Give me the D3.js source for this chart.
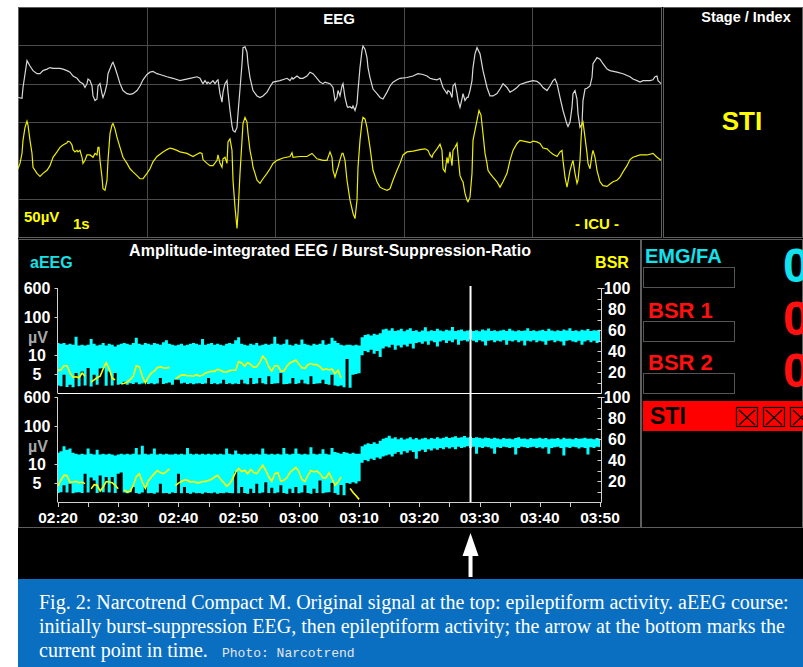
<!DOCTYPE html>
<html><head><meta charset="utf-8">
<script src="https://cdn.jsdelivr.net/npm/d3@7"></script>
<style>html,body{margin:0;padding:0;background:#fff;}svg{display:block;}</style>
</head><body>
<svg id="c" width="803" height="667"></svg>
<script>
// ---------------- DATA ----------------
// Raw EEG (samples at ~128.6 Hz over 5 s, value in µV relative to channel baseline)
const eegWhite = [[0,-18],[4,-19],[5,-5],[9,30],[12,23],[15,17],[19,13],[22,13],[25,17],[29,19],[32,21],[35,20],[42,20],[45,19],[49,17],[52,15],[55,10],[59,7],[62,2],[65,0],[67,-5],[69,0],[70,6],[72,4],[74,-3],[75,-16],[77,-22],[79,-20],[80,-3],[82,0],[84,-13],[85,-18],[87,-11],[89,0],[90,13],[94,26],[95,28],[97,21],[99,13],[102,0],[105,-9],[109,-13],[112,-14],[115,-13],[119,-9],[122,-3],[125,5],[129,12],[132,15],[135,16],[139,13],[142,12],[149,9],[155,7],[162,4],[165,5],[172,7],[179,9],[182,7],[184,2],[185,0],[187,4],[189,0],[190,2],[192,0],[195,4],[197,0],[199,4],[200,5],[202,-13],[204,-24],[205,-11],[207,0],[209,4],[210,-11],[212,-35],[214,-55],[215,-61],[217,-63],[219,-57],[220,-39],[222,-7],[224,26],[225,47],[227,48],[229,41],[230,26],[232,8],[235,-9],[239,-16],[242,-18],[245,-16],[249,-11],[252,-4],[255,2],[262,4],[269,7],[272,4],[274,8],[275,6],[279,10],[282,7],[285,7],[289,10],[292,15],[295,13],[299,7],[302,2],[305,0],[307,2],[312,0],[315,-5],[317,-22],[319,-18],[320,-9],[322,-16],[324,-3],[325,0],[327,-18],[329,-29],[330,-31],[332,-30],[334,-32],[335,-29],[337,-35],[339,-26],[340,-9],[342,21],[344,43],[345,49],[347,45],[349,34],[350,21],[352,8],[355,-7],[359,-13],[362,-18],[365,-20],[369,-11],[372,-3],[375,2],[379,5],[382,7],[389,8],[395,10],[400,13],[405,12],[409,10],[412,7],[415,6],[419,5],[422,7],[425,-5],[429,-13],[430,-9],[432,-11],[434,-18],[435,-3],[437,0],[439,-13],[440,-22],[442,-31],[444,-20],[445,-13],[447,-22],[449,-18],[450,-18],[452,-9],[454,4],[455,21],[457,39],[459,47],[462,39],[465,17],[469,-5],[472,-16],[475,-16],[479,-13],[482,-7],[485,0],[489,-5],[492,-11],[495,-9],[499,-5],[502,-1],[509,2],[515,4],[519,3],[522,0],[525,-5],[529,-9],[532,-3],[535,4],[537,6],[539,0],[542,-18],[545,-35],[549,-53],[550,-56],[552,-50],[554,-31],[555,-13],[557,-9],[559,-20],[560,-39],[562,-57],[564,-53],[565,-22],[567,-7],[569,-6],[572,-3],[574,8],[575,26],[579,34],[582,32],[585,26],[589,19],[592,17],[599,15],[605,13],[612,9],[615,6],[619,4],[622,2],[625,4],[632,4],[635,5],[637,9],[639,10],[640,4],[643,0]];
const eegYellow = [[0,-11],[2,-4],[4,9],[5,26],[7,43],[9,51],[10,46],[12,26],[14,9],[15,-9],[19,-17],[22,-21],[25,-17],[29,-13],[32,-7],[35,4],[39,11],[42,17],[45,20],[49,23],[50,25],[52,24],[54,20],[55,14],[57,11],[59,13],[60,11],[62,13],[64,4],[65,-4],[67,0],[69,7],[72,7],[75,4],[77,9],[79,7],[80,17],[81,17],[82,0],[84,-22],[85,-37],[87,-39],[89,-26],[90,0],[92,35],[94,46],[95,48],[97,41],[99,30],[102,17],[105,4],[109,-4],[112,-11],[115,-15],[119,-20],[122,-24],[125,-24],[129,-17],[132,-11],[135,-2],[139,5],[142,8],[145,11],[149,14],[152,16],[155,15],[159,13],[162,11],[169,9],[175,5],[179,8],[182,10],[184,9],[185,1],[189,-4],[192,-7],[195,-7],[199,0],[200,7],[202,-4],[204,-9],[205,2],[207,4],[209,-4],[210,24],[212,28],[214,13],[215,-26],[217,-61],[219,-89],[220,-69],[222,-17],[224,26],[225,48],[227,56],[229,50],[230,35],[232,13],[234,0],[235,-9],[237,-17],[239,-26],[242,-30],[245,-24],[249,-17],[252,-11],[255,-4],[259,0],[265,3],[272,5],[274,10],[275,4],[282,5],[289,5],[294,9],[299,2],[305,0],[309,0],[312,11],[314,4],[315,-13],[317,-22],[319,-13],[320,-9],[322,1],[324,9],[325,9],[327,0],[329,-26],[332,-52],[335,-69],[337,-76],[339,-52],[340,-9],[342,26],[344,50],[345,56],[347,54],[349,43],[352,17],[355,-13],[359,-28],[362,-35],[365,-37],[369,-39],[372,-37],[375,-26],[379,-13],[382,-4],[385,7],[389,11],[395,12],[402,14],[407,15],[410,13],[412,7],[414,4],[415,8],[419,15],[422,21],[424,13],[425,-11],[427,-15],[429,4],[430,-4],[432,11],[434,-7],[435,13],[437,17],[439,22],[440,7],[442,-20],[444,-26],[445,-28],[447,-43],[449,-52],[450,-54],[452,-48],[454,-17],[455,26],[459,52],[461,65],[463,59],[465,35],[467,9],[469,-4],[470,-13],[472,-17],[475,-22],[479,-28],[482,-35],[485,-28],[489,-17],[492,0],[495,13],[499,22],[502,26],[509,24],[512,23],[515,25],[519,24],[522,22],[525,16],[529,15],[532,11],[535,8],[539,5],[542,11],[544,13],[545,0],[547,-22],[549,-35],[550,-28],[552,-13],[554,-4],[555,0],[557,-17],[559,-30],[560,-26],[562,0],[563,26],[564,48],[565,50],[567,30],[569,9],[570,-4],[572,-11],[574,7],[575,13],[577,4],[579,-13],[582,-28],[585,-33],[589,-34],[592,-31],[595,-28],[599,-26],[602,-22],[605,-15],[609,-7],[612,1],[615,4],[622,7],[629,7],[635,9],[639,4],[643,0]];

// aEEG trend, one value every 0.5 min from 02:20 to 03:50 (µV)
const aeegHi1 = [21,20,21,19,20,19,31,18,19,18, 19,27,20,18,19,21,18,20,19,17, 19,20,21,20,19,21,29,20,19,21, 20,19,21,20,19,22,25,20,19,18, 19,20,18,19,20,21,20,19,27,19, 20,21,19,20,19,18,20,21,20,25, 30,20,19,18,20,19,21,18,19,20, 19,20,31,20,19,20,26,19,18,20, 19,26,20,19,18,20,19,20,25,19, 20,29,24,21,19,18,19,19,18,19, 18,30,34,36,33,37,35,38,48,50, 45,52,44,46,50,43,47,52,44,46, 42,45,55,43,46,44,50,45,43,47, 45,56,44,46,48,43,45,47,44,46, 43,48,45,51,44,46,43,45,47,44, 50,45,43,46,44,45,52,44,46,43, 45,47,44,50,45,43,46,44,48,45, 52,44,46,43,47,45,49,44,46,45,47];
const aeegLo1 = [2.0,1.8,4.8,1.6,2.2,1.5,5.3,1.8,5.7,2.0, 6.6,1.7,4.8,2.2,6.5,6.6,1.9,5.7,2.0,5.3, 2.2,2.4,3.0,2.2,2.6,2.4,2.8,2.3,2.5,2.9, 2.4,2.6,2.3,2.5,4.0,2.4,2.6,2.8,2.2,3.5, 3.5,2.5,2.7,2.4,2.6,2.3,2.5,2.6,2.4,2.5, 4.0,2.4,2.6,2.3,2.5,3.5,2.4,2.6,2.3,2.5, 2.4,3.5,2.5,2.3,4.0,2.4,2.5,4.0,2.6,2.3, 4.4,2.4,2.5,2.6,5.3,2.3,2.4,2.5,4.0,2.4, 2.6,3.5,2.5,2.3,4.4,2.4,2.5,2.6,3.5,2.4, 2.2,4.8,2.0,1.8,2.0,1.5,9.0,1.4,4.8,5.0, 5.2,10,13,12,14,11,13,9.5,15,17, 16,19,14,18,16,19,17,20,15,21, 22,20,23,19,24,22,17,23,25,21, 24,22,26,19,24,25,23,26,24,22, 25,23,18,24,25,22,24,23,25,19, 24,23,25,22,24,18,24,23,25,22, 24,23,19,24,25,22,24,23,18,24, 25,23,22,24,19,23,25,22,24,21,23];
const aeegHi2 = [20,22,30,24,26,20,19,18,19,18, 26,19,18,24,18,19,18,19,18,17, 18,19,18,19,18,19,27,18,31,19, 18,19,26,18,19,18,19,18,18,19, 18,19,18,27,19,18,19,18,19,18, 19,18,19,18,19,18,26,19,18,23, 19,18,19,18,19,18,19,18,26,19, 18,19,18,19,18,27,19,18,19,26, 19,18,19,18,28,19,18,19,25,19, 18,27,21,20,19,21,20,19,20,19, 19,30,33,36,34,38,35,42,47,50, 57,48,52,46,50,45,48,52,46,49, 45,48,50,46,49,47,52,48,50,53, 49,52,55,50,52,56,51,53,49,52, 50,48,51,49,47,50,48,46,49,47, 48,46,49,52,47,48,46,49,47,48, 50,47,49,46,48,47,49,46,50,47, 48,46,49,47,48,50,47,48,46,49,47];
const aeegLo2 = [2.4,2.6,4.4,2.5,4.8,2.3,2.5,2.6,2.4,7.5, 2.5,6.5,5.7,2.4,7.0,2.6,6.6,2.5,6.6,2.4, 7.5,7.8,2.5,2.3,2.6,4.0,2.4,2.2,2.5,4.0, 2.3,2.4,2.2,2.5,4.8,2.3,2.4,2.2,2.5,2.4, 7.5,2.3,4.0,2.4,2.2,2.5,2.3,2.4,2.2,2.5, 2.4,2.3,2.5,2.2,2.4,2.3,2.5,2.4,2.3,8.0, 2.3,4.0,2.4,2.2,3.5,2.4,4.8,2.3,2.5,5.2, 2.4,3.8,2.3,2.5,4.4,2.4,2.2,3.5,2.4,4.0, 2.3,2.5,4.4,2.4,2.2,3.5,2.4,5.7,2.3,2.5, 2.6,5.0,2.4,1.9,4.5,1.8,5.0,4.8,5.2,4.9, 5.5,11,13,12,14,13,15,14,16,17, 18,16,19,21,18,22,20,23,21,14, 22,24,21,25,23,26,24,27,25,28, 26,28,25,29,27,28,30,27,29,19, 28,27,29,28,26,19,28,27,29,28, 27,28,18,27,29,28,27,28,29,27, 28,26,28,19,27,28,29,27,17,28, 27,29,28,26,28,27,18,28,27,29,28];
// Burst-suppression ratio (%), same time grid, null = no value
const bsr1 = [21.6,22,26,26,19,15,15.5,14.5,19,16, null,10.5,12.5,14.5,16,23,29,23,14,12.7, null,8.6,9.3,10.5,13,16,26,25,16,9.5, 15,19,21,24,25,23.8,23.8,24.4,null,13.5, 15.5,17,17,16.5,16.5,16,17.5,16,17,19, 20,20.6,20.6,22.5,21.6,20,20,21.5,21.6,21.6, 30,28.6,25.4,29,27,24.5,25,29,35,32, 25,21,26,26,21,21,25.4,28.6,30,31.5, 27.5,24,23.5,27,28,27,27,25,22,23, 22,22.9,18.4,21.6,14.3];
const bsr2 = [15.2,21,25.5,25,18.5,19,19.7,18.4,19,17.5, null,12.5,16.5,16,10.5,14.3,19.5,19,18.4,15.9, 12.7,null,11.5,9.5,10.2,16,24,27,19,13, 20,23.8,27,30,28,27,29,31.5,null,15.5, 18,19.5,21,20.6,19,19.5,18.5,18.5,19.5,19.5, 20.6,21.6,23.8,25.5,21.6,18.5,15,17.5,22,28.5, 32,29,30.2,27,31,28,27,31,35,30.2, 24,19.7,27,28,20,20.6,23,28,30.5,33, 29,21.5,19.7,25.4,30,28.6,29.5,27,23,23, 28,22,16,19,23.8,null,null,13,9,6, 2.5];

const timeLabels = ["02:20","02:30","02:40","02:50","03:00","03:10","03:20","03:30","03:40","03:50"];
const aeegTicks = [600,100,10,5];
const bsrTicks = [100,80,60,40,20];
const cursorMinute = 68.5;          // minutes after 02:20
const sideLabels = ["EMG/FA","BSR 1","BSR 2"];
const sideValues = ["0","0","0"];
const captionLines = ["Fig. 2: Narcotrend Compact M. Original signal at the top: epileptiform activity. aEEG course:",
  "initially burst-suppression EEG, then epileptiform activity; the arrow at the bottom marks the",
  "current point in time."];
const captionCredit = "Photo: Narcotrend";

// ---------------- DRAW ----------------
const SANS = "'Liberation Sans', Arial, Helvetica, sans-serif";
const SERIF = "'Liberation Serif', 'Times New Roman', serif";
const MONO = "'Liberation Mono', 'DejaVu Sans Mono', monospace";
const svg = d3.select("#c");
const GRID = "#4b4b4b", BORDER = "#5e5e5e";

svg.append("rect").attr("width",803).attr("height",667).attr("fill","#fff");
svg.append("rect").attr("x",18).attr("y",7).attr("width",785).attr("height",572).attr("fill","#000");
svg.append("rect").attr("x",18).attr("y",579).attr("width",785).attr("height",88).attr("fill","#0a6fc0");

function box(x,y,w,h,stroke){ svg.append("rect").attr("x",x+0.5).attr("y",y+0.5).attr("width",w).attr("height",h).attr("fill","none").attr("stroke",stroke).attr("stroke-width",1); }
box(18,7,643,230,BORDER);
box(663,7,139,230,BORDER);
box(18,239,622,288,BORDER);
box(641,239,161,288,BORDER);

function txt(x,y,s,o){ const t=svg.append("text").attr("x",x).attr("y",y).text(s)
  .attr("font-family",o.ff||SANS).attr("font-size",o.fs).attr("font-weight",o.fw||"bold")
  .attr("fill",o.fill||"#fff").attr("text-anchor",o.anchor||"start"); if(o.ls) t.attr("letter-spacing",o.ls); return t; }

// ---- raw EEG panel ----
const xE = d3.scaleLinear().domain([0,643]).range([18,661]);
const yE = d3.scaleLinear().domain([0,300]).range([237,7]);
const gE = svg.append("g");
d3.range(50,300,50).forEach(v=>gE.append("line").attr("x1",19).attr("x2",661).attr("y1",Math.round(yE(v))+0.5).attr("y2",Math.round(yE(v))+0.5).attr("stroke",GRID));
d3.range(1,5).forEach(s=>{const x=Math.round(xE(s*128.6))+0.5; gE.append("line").attr("x1",x).attr("x2",x).attr("y1",8).attr("y2",237).attr("stroke",GRID);});
const lineWhite = d3.line().x(d=>xE(d[0])).y(d=>yE(200+d[1]));
const lineYellow = d3.line().x(d=>xE(d[0])).y(d=>yE(100+d[1]));
gE.append("path").attr("d",lineWhite(eegWhite)).attr("fill","none").attr("stroke","#d8d8d8").attr("stroke-width",1.2);
gE.append("path").attr("d",lineYellow(eegYellow)).attr("fill","none").attr("stroke","#eeee00").attr("stroke-width",1.2);
txt(339,24,"EEG",{fs:15,anchor:"middle"});
txt(24,222,"50µV",{fs:15,fill:"#ffff00"});
txt(73,229,"1s",{fs:15,fill:"#ffff00"});
txt(597,229,"- ICU -",{fs:15,fill:"#ffff00",anchor:"middle"});
txt(746,22,"Stage / Index",{fs:14.5,anchor:"middle"});
txt(742,130,"STI",{fs:26,fill:"#ffff00",anchor:"middle"});

// ---- aEEG trend ----
const tf = v => v <= 10 ? v/10 : 1 + Math.log10(v/10);
const xT = d3.scaleLinear().domain([0,90]).range([58,600]);
const plots = [
  {hi:aeegHi1, lo:aeegLo1, bsr:bsr1, top:288, bot:393},
  {hi:aeegHi2, lo:aeegLo2, bsr:bsr2, top:397, bot:502}
];
const AX = "#d0d0d0";
plots.forEach((p,k)=>{
  const yA = d3.scaleLinear().domain([0,tf(600)]).range([p.bot,p.top]);
  const yB = d3.scaleLinear().domain([0,100]).range([p.bot,p.top]);
  const g = svg.append("g");
  const area = d3.area().x((d,i)=>xT(i*0.5)).y0((d,i)=>yA(tf(p.lo[i]))).y1(d=>yA(tf(d))).curve(d3.curveStep);
  g.append("path").attr("d",area(p.hi)).attr("fill","#00ffff");
  const bl = d3.line().defined(d=>d!=null).x((d,i)=>xT(i*0.5)).y(d=>yB(d));
  g.append("path").attr("d",bl(p.bsr)).attr("fill","none").attr("stroke","#ffff00").attr("stroke-width",1.6);
  // left axis
  const xl = xT(0)-0.5;
  g.append("line").attr("x1",xl).attr("x2",xl).attr("y1",yA(tf(600))).attr("y2",p.bot).attr("stroke",AX);
  aeegTicks.forEach(v=>{
    const y=Math.round(yA(tf(v)))+0.5;
    g.append("line").attr("x1",xl-3).attr("x2",xl).attr("y1",y).attr("y2",y).attr("stroke",AX);
    txt(37,yA(tf(v))+6,String(v),{fs:16,anchor:"middle"});
  });
  txt(38,yA(tf(30))+6,"µV",{fs:16,anchor:"middle",fill:"#a8a8a8"});
  // right axis
  const xr = xT(90)+1.5;
  g.append("line").attr("x1",xr).attr("x2",xr).attr("y1",p.top).attr("y2",p.bot).attr("stroke",AX);
  d3.range(0,101,10).forEach(v=>{const y=Math.round(yB(v))+0.5; g.append("line").attr("x1",xr-4).attr("x2",xr).attr("y1",y).attr("y2",y).attr("stroke",AX);});
  g.append("line").attr("x1",xr).attr("x2",xr+3).attr("y1",p.top+0.5).attr("y2",p.top+0.5).attr("stroke",AX);
  bsrTicks.forEach(v=>txt(617,yB(v)+6,String(v),{fs:16,anchor:"middle"}));
  // bottom line
  g.append("line").attr("x1",xl).attr("x2",xr).attr("y1",p.bot+0.5).attr("y2",p.bot+0.5).attr("stroke",k==0?"#ffffff":AX);
  if(k==1){
    d3.range(0,91,5).forEach(m=>{const x=Math.round(xT(m))+0.5; g.append("line").attr("x1",x).attr("x2",x).attr("y1",p.bot).attr("y2",p.bot+5).attr("stroke",AX);});
    timeLabels.forEach((s,i)=>txt(xT(i*10),523,s,{fs:15.5,anchor:"middle"}));
  }
});
// cursor
const xc = xT(cursorMinute);
svg.append("line").attr("x1",xc).attr("x2",xc).attr("y1",286).attr("y2",502).attr("stroke","#fff").attr("stroke-width",2);
// arrow
svg.append("path").attr("d",`M${xc},533 L${xc-8},556 L${xc+8},556 Z`).attr("fill","#fff");
svg.append("rect").attr("x",xc-2).attr("y",555).attr("width",4).attr("height",22).attr("fill","#fff");

txt(330,256,"Amplitude-integrated EEG / Burst-Suppression-Ratio",{fs:16,anchor:"middle"});
txt(30,268,"aEEG",{fs:16,fill:"#19e0e6"});
txt(612,268,"BSR",{fs:16,fill:"#ffff00",anchor:"middle"});

// ---- side panel (values are partly cut by the screen edge, as on the device) ----
const sideColors = ["#12e1ee","#ff1010","#ff1010"];
const sideY = [263,318,370];
const boxY = [267,321,373];
sideLabels.forEach((s,i)=>{
  txt(i==0?645:648,sideY[i],s,{fs:i==0?20:22,fill:sideColors[i]});
  box(643,boxY[i],91,20,"#555");
  txt(783,sideY[i]+(i==0?19:17),sideValues[i],{fs:48,fill:sideColors[i]});
});
svg.append("rect").attr("x",643).attr("y",401).attr("width",160).attr("height",30).attr("fill","#ff0000");
txt(650,424,"STI",{fs:23,fill:"#000"});
[736,763,790].forEach(x=>{
  svg.append("rect").attr("x",x+0.5).attr("y",407.5).attr("width",21).attr("height",19).attr("fill","none").attr("stroke","#000").attr("stroke-width",1.2);
  svg.append("path").attr("d",`M${x+3},${410} L${x+19},${425} M${x+19},${410} L${x+3},${425}`).attr("stroke","#000").attr("stroke-width",1.3);
});

// ---- caption ----
captionLines.forEach((s,i)=>txt(39,609+i*24,s,{ff:SERIF,fs:20,fw:"normal"}));
txt(222,657,captionCredit,{ff:MONO,fs:13,fw:"normal",fill:"#e6e6e6"});
</script></body></html>
